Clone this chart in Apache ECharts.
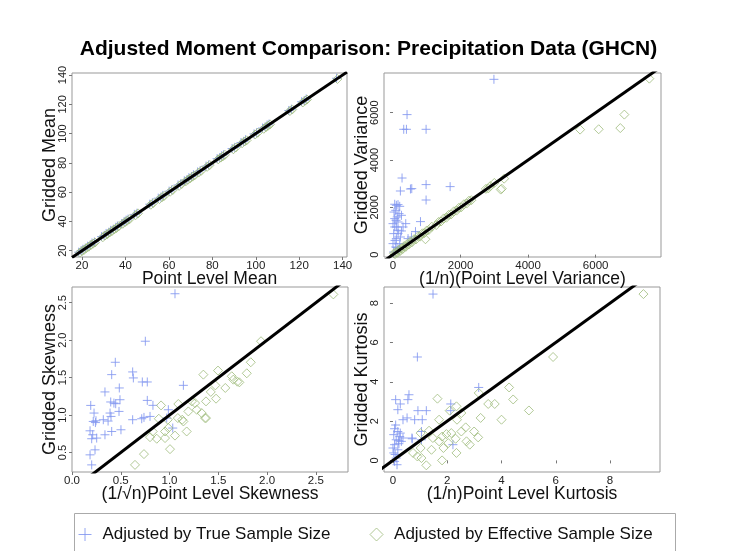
<!DOCTYPE html>
<html>
<head>
<meta charset="utf-8">
<script src="https://cdn.jsdelivr.net/npm/echarts@6/dist/echarts.min.js"></script>
<style>
  html, body { margin: 0; padding: 0; background: #fff; }
  #chart { width: 737px; height: 551px; }
</style>
</head>
<body>
<div id="chart"></div>
<script>
// series names
var seriesNames = ['Adjusted by True Sample Size', 'Adjusted by Effective Sample Size'];

// panel 1: mean
var meanTrue = [[18.5,19.0],[19.6,20.1],[20.4,21.0],[21.5,21.8],[22.6,23.1],[23.8,24.0],[24.6,25.3],[25.7,26.0],[29.0,29.6],[30.2,30.5],[31.1,31.8],[32.3,32.6],[33.2,33.9],[34.4,34.7],[35.5,36.0],[36.3,36.9],[38.2,38.5],[39.4,40.0],[40.3,40.9],[41.2,41.6],[44.1,44.8],[45.3,45.6],[51.2,51.8],[52.4,52.7],[55.1,55.9],[56.3,56.6],[57.2,57.8],[60.1,60.7],[61.3,61.6],[64.2,64.9],[65.4,65.7],[67.1,67.8],[68.3,68.6],[69.2,69.9],[70.4,70.7],[71.3,71.9],[73.2,73.8],[74.4,74.7],[77.1,77.8],[78.3,78.6],[82.2,82.9],[83.4,83.7],[84.3,84.9],[85.2,85.6],[89.1,89.8],[90.3,90.6],[93.2,93.9],[94.4,94.7],[95.3,95.8],[99.2,99.8],[100.4,100.7],[103.1,103.8],[104.3,104.6],[105.2,105.9],[106.1,106.5],[115.2,115.8],[116.4,116.7],[121.1,121.8],[122.3,122.6],[123.2,123.7],[137.2,137.8]];
var meanEff = [[19.0,18.7],[20.1,19.8],[21.0,20.6],[22.0,21.8],[23.1,22.7],[24.2,24.0],[25.1,24.8],[26.0,25.6],[29.6,29.2],[30.6,30.4],[31.7,31.3],[32.8,32.5],[33.8,33.4],[34.9,34.6],[35.9,35.5],[37.0,36.8],[38.8,38.4],[39.9,39.6],[40.8,40.5],[41.9,41.5],[44.7,44.3],[45.8,45.5],[51.7,51.4],[52.8,52.5],[55.7,55.3],[56.9,56.6],[57.8,57.4],[60.6,60.3],[61.8,61.5],[64.7,64.3],[65.9,65.6],[67.7,67.3],[68.8,68.5],[69.8,69.4],[70.9,70.6],[71.8,71.4],[73.7,73.4],[74.9,74.6],[77.6,77.3],[78.8,78.5],[82.7,82.4],[83.9,83.6],[84.8,84.4],[85.8,85.5],[89.7,89.3],[90.8,90.5],[93.7,93.4],[94.9,94.6],[95.8,95.4],[99.7,99.4],[100.9,100.6],[103.7,103.3],[104.8,104.5],[105.7,105.4],[106.6,106.3],[115.7,115.4],[116.8,116.5],[121.7,121.3],[122.8,122.5],[123.6,123.3],[137.6,137.3]];
var meanXRange = [15.4, 142];
var meanYRange = [15.7, 141.4];
var meanTicks = [20, 40, 60, 80, 100, 120, 140];

// panel 2: variance
var varTrue = [[2988,7412],[415,5920],[317,5298],[397,5298],[979,5298],[267,3239],[218,2690],[516,2775],[555,2790],[979,2960],[1691,2875],[979,2309],[813,1395],[665,972],[546,745],[445,676],[148,2114],[99,2085],[198,2042],[80,1873],[178,1733],[249,1662],[50,1522],[148,1380],[377,1310],[50,1169],[148,1028],[20,888],[99,676],[218,745],[0,465],[80,323],[178,254],[20,110],[99,1169],[50,2130],[297,1169],[125,1592],[0,1310],[198,465],[150,900],[60,600],[250,1000],[120,300],[30,1800],[90,1450]];
var varEff = [[30,60],[60,20],[90,110],[130,80],[170,200],[210,150],[250,270],[290,240],[330,360],[380,330],[420,450],[470,430],[520,560],[560,520],[620,650],[680,640],[740,780],[800,760],[870,900],[930,910],[960,650],[1000,1020],[1060,1040],[1150,1180],[1280,1250],[1350,1380],[1420,1400],[1500,1530],[1580,1560],[1650,1680],[1720,1700],[1800,1830],[1880,1860],[1950,1980],[2020,2000],[2100,2130],[2180,2160],[2250,2280],[2320,2300],[2750,2780],[2820,2800],[2880,2900],[3000,3030],[3190,2750],[3220,2790],[3290,3210],[5540,5285],[6090,5300],[6730,5350],[6850,5920],[7590,7440]];
var varXRange = [-267, 7935];
var varYRange = [-101, 7679];
var varTicks = [0, 2000, 4000, 6000];

// panel 3: skewness
var skewTrue = [[1.056,2.62],[0.752,1.986],[0.444,1.705],[0.407,1.54],[0.622,1.576],[0.629,1.496],[0.721,1.442],[0.772,1.442],[1.142,1.397],[0.338,1.309],[0.485,1.362],[0.192,1.129],[0.397,1.175],[0.448,1.152],[0.492,1.205],[0.772,1.196],[0.482,1.049],[0.39,1.027],[0.4,0.982],[0.226,1.027],[0.321,0.938],[0.246,0.924],[0.218,0.915],[0.622,0.938],[0.715,0.951],[0.738,0.969],[0.8,0.982],[0.988,1.071],[0.185,0.79],[0.212,0.737],[0.253,0.693],[0.202,0.684],[0.338,0.737],[0.407,0.781],[0.502,0.804],[0.185,0.469],[0.236,0.536],[0.202,0.335],[1.033,0.827],[0.971,0.96],[0.43,1.16],[0.24,0.9],[0.37,0.92],[0.83,1.13]];
var skewEff = [[1.347,1.54],[1.374,1.183],[1.374,0.96],[0.913,1.129],[1.09,1.148],[1.228,1.183],[1.279,1.071],[1.193,1.049],[0.89,0.951],[0.982,0.938],[1.085,0.96],[1.13,0.938],[1.142,0.915],[0.828,0.781],[0.954,0.781],[0.988,0.827],[0.8,0.705],[0.869,0.684],[0.954,0.693],[1.056,0.726],[1.176,0.781],[1.005,0.545],[0.738,0.479],[0.646,0.335],[1.262,1.16],[1.33,1.027],[2.68,2.611],[1.938,1.986],[1.833,1.705],[1.792,1.558],[1.497,1.594],[1.638,1.518],[1.654,1.473],[1.716,1.437],[1.696,1.446],[1.47,1.397],[1.572,1.362],[1.423,1.309],[1.477,1.219],[1.364,0.96]];
var skewXRange = [0, 2.83];
var skewYRange = [0.24, 2.71];
var skewXTicks = [0, 0.5, 1, 1.5, 2, 2.5];
var skewYTicks = [0.5, 1, 1.5, 2, 2.5];

// panel 4: kurtosis
var kurtTrue = [[1.476,8.46],[0.9,5.26],[3.16,3.71],[0.59,3.34],[0.55,3.09],[0.1,3.09],[0.27,2.87],[0.18,2.58],[0.92,2.53],[1.23,2.53],[1.08,2.07],[0.8,2.07],[0.52,2.16],[0.37,2.07],[2.13,2.87],[2.13,2.53],[1.05,1.47],[0.7,1.14],[0.71,1.1],[0.06,1.61],[0.18,1.47],[0.03,1.31],[0.25,1.21],[0.12,1.05],[0.31,0.97],[0.06,0.8],[0.18,0.54],[0.03,0.38],[0.12,0.12],[0.06,-0.05],[0.15,-0.22],[0.37,1.14],[0.0,0.63],[0.27,1.39],[2.21,0.8],[1.05,1.05],[0.1,1.8],[0.2,1.0],[0.08,0.3],[0.22,0.85]];
var kurtEff = [[1.64,3.14],[3.16,3.43],[2.34,2.75],[2.09,2.53],[2.52,2.41],[1.7,2.07],[2.36,2.07],[1.33,1.51],[1.02,1.39],[2.68,1.68],[2.99,1.47],[3.14,1.17],[1.97,1.34],[2.15,1.39],[2.31,1.1],[2.52,1.47],[1.7,0.97],[2.04,0.88],[1.86,0.63],[2.71,0.97],[2.83,0.8],[1.42,0.54],[0.74,0.38],[0.9,0.2],[1.05,0.12],[1.23,-0.25],[1.81,0.0],[2.34,0.38],[1.02,0.63],[1.47,1.14],[1.81,1.21],[9.23,8.46],[5.9,5.26],[5.01,2.54],[4.43,3.1],[4.28,3.71],[3.51,2.87],[3.75,2.87],[4.0,2.07],[3.23,2.16]];
var kurtXRange = [-0.33, 9.84];
var kurtYRange = [-0.59, 8.82];
var kurtTicks = [0, 2, 4, 6, 8];

var FONT = "'Liberation Sans', Arial, sans-serif";
var BLUE = '#8396f0';
var GREEN = '#9fbb7c';
var PLUS = 'path://M0,5L10,5M5,0L5,10';

var panels = [
    { grid: { left: 72, top: 73, width: 275, height: 184 }, xr: meanXRange, yr: meanYRange, xt: meanTicks, yt: meanTicks,
      xn: 'Point Level Mean', yn: 'Gridded Mean', a: meanTrue, b: meanEff },
    { grid: { left: 384, top: 73, width: 277, height: 184 }, xr: varXRange, yr: varYRange, xt: varTicks, yt: varTicks,
      xn: '(1/n)(Point Level Variance)', yn: 'Gridded Variance', a: varTrue, b: varEff },
    { grid: { left: 72, top: 287, width: 276, height: 185 }, xr: skewXRange, yr: skewYRange, xt: skewXTicks, yt: skewYTicks,
      xn: '(1/\u221an)Point Level Skewness', yn: 'Gridded Skewness', a: skewTrue, b: skewEff, dec: 1 },
    { grid: { left: 384, top: 287, width: 276, height: 185 }, xr: kurtXRange, yr: kurtYRange, xt: kurtTicks, yt: kurtTicks,
      xn: '(1/n)Point Level Kurtosis', yn: 'Gridded Kurtosis', a: kurtTrue, b: kurtEff }
];

function makeAxis(idx, range, ticks, name, isX, dec) {
    return {
        type: 'value',
        gridIndex: idx,
        min: range[0],
        max: range[1],
        name: name,
        nameLocation: 'middle',
        nameGap: isX ? 13 : 13,
        nameMoveOverlap: false,
        nameTextStyle: { fontFamily: FONT, fontSize: isX ? 17.5 : 18, color: '#111' },
        axisLine: { show: false },
        splitLine: { show: false },
        axisTick: { show: true, length: 3, lineStyle: { color: '#777' }, customValues: ticks },
        axisLabel: {
            customValues: ticks,
            fontFamily: FONT,
            fontSize: isX ? 11.5 : 11,
            color: '#222',
            margin: isX ? 3 : 4,
            rotate: isX ? 0 : 90,
            formatter: function (v) { return dec ? v.toFixed(dec) : String(v); }
        }
    };
}

var grids = [], xAxes = [], yAxes = [], series = [];
panels.forEach(function (p, i) {
    grids.push(Object.assign({ show: true, borderColor: '#999', borderWidth: 1 }, p.grid));
    xAxes.push(makeAxis(i, p.xr, p.xt, p.xn, true, p.dec));
    yAxes.push(makeAxis(i, p.yr, p.yt, p.yn, false, p.dec));
    series.push({
        name: seriesNames[0], type: 'scatter', xAxisIndex: i, yAxisIndex: i,
        symbol: PLUS, symbolSize: 9, data: p.a,
        itemStyle: { color: 'rgba(0,0,0,0)', borderColor: BLUE, borderWidth: 1, opacity: 0.85 }
    });
    series.push({
        name: seriesNames[1], type: 'scatter', xAxisIndex: i, yAxisIndex: i,
        symbol: 'diamond', symbolSize: 9, data: p.b,
        itemStyle: { color: 'rgba(0,0,0,0)', borderColor: GREEN, borderWidth: 1 }
    });
    // y = x reference line spanning the axes
    var lo = Math.min(p.xr[0], p.yr[0]), hi = Math.max(p.xr[1], p.yr[1]);
    series.push({
        type: 'line', xAxisIndex: i, yAxisIndex: i, silent: true, clip: true,
        symbol: 'none', data: [[lo, lo], [hi, hi]],
        lineStyle: { color: '#000', width: 3 }, z: 5
    });
});

var chart = echarts.init(document.getElementById('chart'), null, { renderer: 'canvas' });
chart.setOption({
    animation: false,
    backgroundColor: '#fff',
    title: {
        text: 'Adjusted Moment Comparison: Precipitation Data (GHCN)',
        left: 'center',
        top: 34,
        textStyle: { fontFamily: FONT, fontSize: 21, fontWeight: 'bold', color: '#000' }
    },
    legend: {
        data: [
            { name: seriesNames[0], icon: PLUS },
            { name: seriesNames[1], icon: 'diamond' }
        ],
        left: 73,
        top: 521,
        itemWidth: 13,
        itemHeight: 13,
        itemGap: 39,
        itemStyle: { color: 'rgba(0,0,0,0)', borderWidth: 1 },
        textStyle: { fontFamily: FONT, fontSize: 17, color: '#111', padding: [0, 0, 0, 6] }
    },
    graphic: [{
        type: 'rect', left: 72, top: 511, silent: true,
        shape: { width: 601, height: 45 },
        style: { fill: 'none', stroke: '#aaa', lineWidth: 1 }
    }],
    grid: grids,
    xAxis: xAxes,
    yAxis: yAxes,
    series: series
});
</script>
</body>
</html>
